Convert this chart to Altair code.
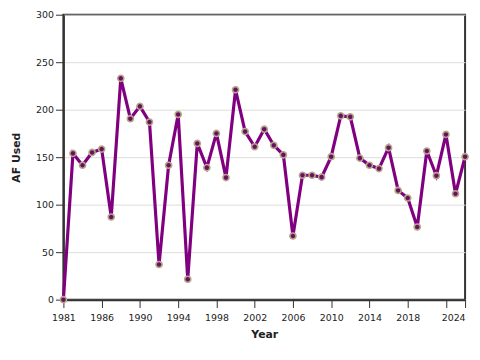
import altair as alt
import pandas as pd

years = list(range(1981, 2024))
af_used = [0, 154, 141.5, 155, 158.5, 87, 233, 190.5, 203.5, 187,
           37, 141.5, 195, 21.5, 164.5, 139, 175, 128.5, 221, 177,
           161, 179.5, 162.5, 152.5, 67, 131, 131, 129, 150.5, 193.5,
           192.5, 149, 141.5, 138, 160, 115, 107, 76.5, 156.5, 130.5,
           174, 111.5, 150.5]

tick_years = [1981, 1985, 1989, 1993, 1997, 2001, 2005, 2009, 2013, 2017, 2021, 2023]
tick_labels = ["1981", "1986", "1990", "1994", "1998", "2002", "2006", "2010",
               "2014", "2018", "", "2024"]
y_ticks = [0, 50, 100, 150, 200, 250, 300]

df = pd.DataFrame({"Year": years, "AF Used": af_used})

label_expr = "''"
for v, l in reversed(list(zip(tick_years, tick_labels))):
    label_expr = f"datum.value == {v} ? '{l}' : ({label_expr})"

x_enc = alt.X("Year:Q",
              scale=alt.Scale(domain=[1981, 2023], nice=False, zero=False),
              axis=alt.Axis(values=tick_years, labelExpr=label_expr, grid=False,
                            labelOverlap=False, labelFlush=False, title="Year",
                            labelAlign={"condition": {"test": f"datum.value == {tick_years[-1]}",
                                                      "value": "right"},
                                        "value": "center"}))
y_enc = alt.Y("AF Used:Q",
              scale=alt.Scale(domain=[0, 300], nice=False),
              axis=alt.Axis(values=y_ticks, title="AF Used", grid=True,
                            labelFlush=False))

line = alt.Chart(df).mark_line(color="#800080", strokeWidth=3.2).encode(x=x_enc, y=y_enc)
pts = alt.Chart(df).mark_point(filled=True, fill="#6a1060", stroke="#b5a68a",
                               strokeWidth=1.6, size=38, opacity=1).encode(x=x_enc, y=y_enc)

chart = (line + pts).properties(
    width=406, height=288,
    padding={"top": 0, "left": 2, "right": 0, "bottom": -2},
).configure_view(
    stroke="#333333", strokeWidth=2
).configure_axis(
    labelFont="DejaVu Sans", titleFont="DejaVu Sans",
    labelFontSize=9.5, titleFontSize=11, titleFontWeight="bold",
    labelColor="#222222", titleColor="#222222",
    domainColor="#333333", domainWidth=2,
    tickColor="#333333", tickSize=8, tickWidth=1,
    gridColor="#dddddd", gridWidth=1,
).configure_axisX(
    labelPadding=5, titlePadding=7
).configure_axisY(
    labelPadding=2, titlePadding=14
)

chart.save("out.html", embed_options={"renderer": "svg", "actions": False})
